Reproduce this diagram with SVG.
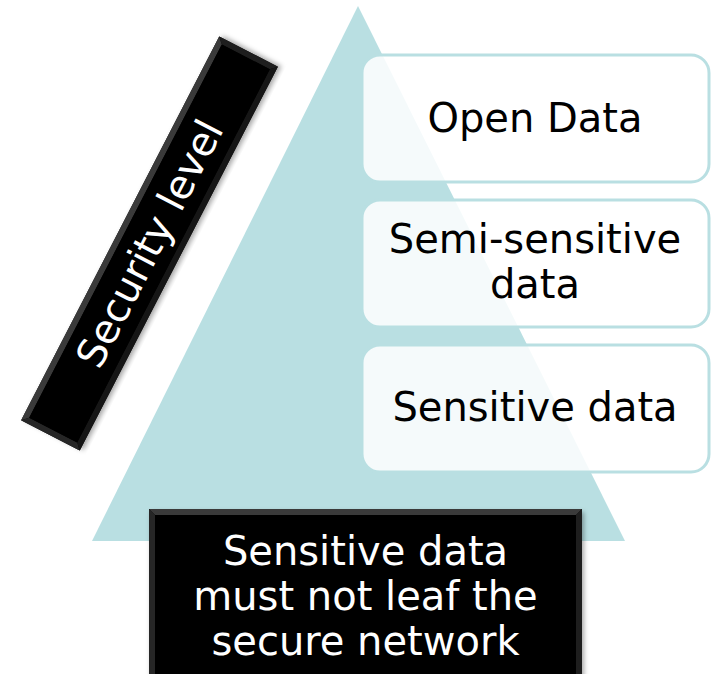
<svg xmlns="http://www.w3.org/2000/svg" width="713" height="674" viewBox="0 0 713 674">
<defs>
<style>
.lvl{fill:#ffffff;fill-opacity:0.85;stroke:#b9dfe2;stroke-width:3}
.lbl{font-family:"DejaVu Sans","Verdana",sans-serif;font-size:40px;fill:#000;text-anchor:middle}
.wlbl{font-family:"DejaVu Sans","Verdana",sans-serif;font-size:40px;fill:#fff;text-anchor:middle}
.bv-t{fill:#3a3a3a}
.bv-l{fill:#262626}
.bv-r{fill:#1e1e1e}
.bv-b{fill:#161616}
</style>
<filter id="sh" x="-10%" y="-10%" width="120%" height="120%">
<feDropShadow dx="2" dy="3" stdDeviation="2.5" flood-color="#000" flood-opacity="0.35"/>
</filter>
</defs>
<rect width="713" height="674" fill="#ffffff"/>
<g id="pyramid">
<polygon points="358,6 92,541 625,541" fill="#b9dfe2"/>
</g>
<g id="connectors"></g>
<g id="open-data">
<rect class="lvl" x="362" y="55" width="347" height="127" rx="18"/>
<text class="lbl" x="535" y="132">Open Data</text>
</g>
<g id="semi-sensitive">
<rect class="lvl" x="362" y="200" width="347" height="127" rx="18"/>
<text class="lbl" x="535" y="253">Semi-sensitive</text>
<text class="lbl" x="535" y="298">data</text>
</g>
<g id="sensitive">
<rect class="lvl" x="362" y="345" width="347" height="127" rx="18"/>
<text class="lbl" x="535" y="421">Sensitive data</text>
</g>
<g id="security-level" transform="translate(149.5,243.5) rotate(-62.7)">
<g filter="url(#sh)">
<rect x="-216" y="-33" width="432" height="66" fill="#000"/>
</g>
<polygon class="bv-t" points="-216,-33 216,-33 210,-27 -210,-27"/>
<polygon class="bv-l" points="-216,-33 -210,-27 -210,27 -216,33"/>
<polygon class="bv-r" points="216,-33 216,33 210,27 210,-27"/>
<polygon class="bv-b" points="-216,33 -210,27 210,27 216,33"/>
<rect x="-210" y="-27" width="420" height="54" fill="#000"/>
<text class="wlbl" x="0" y="14">Security level</text>
</g>
<g id="note">
<g filter="url(#sh)">
<rect x="149" y="509" width="433" height="175" fill="#000"/>
</g>
<polygon class="bv-t" points="149,509 582,509 576,515 155,515"/>
<polygon class="bv-l" points="149,509 155,515 155,674 149,674"/>
<polygon class="bv-r" points="582,509 582,674 576,674 576,515"/>
<rect x="155" y="515" width="421" height="161" fill="#000"/>
<text class="wlbl" x="365.5" y="565">Sensitive data</text>
<text class="wlbl" x="365.5" y="610">must not leaf the</text>
<text class="wlbl" x="365.5" y="655">secure network</text>
</g>
</svg>
